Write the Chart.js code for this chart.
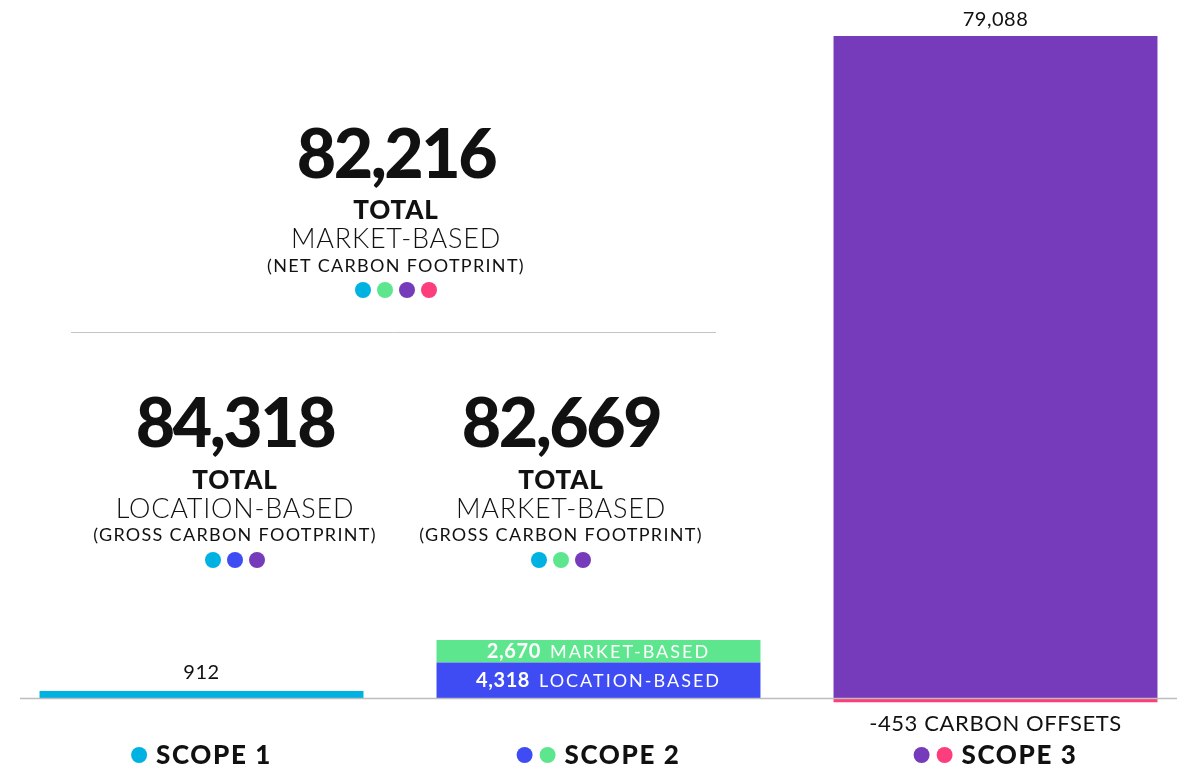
<!DOCTYPE html>
<html>
<head>
<meta charset="utf-8">
<script src="https://cdn.jsdelivr.net/npm/chart.js@4.4.1/dist/chart.umd.min.js"></script>
<style>
	html, body { margin: 0; padding: 0; background: #ffffff; overflow: hidden; }
	#wrap { position: relative; width: 1194px; height: 769px; }
</style>
</head>
<body>
<div id="wrap"><canvas id="chart"></canvas></div>
<script>

// data
const scopes = ['SCOPE 1', 'SCOPE 2', 'SCOPE 3'];
const scope1 = [912, null, null];
const scope2Location = [null, 4318, null];
const scope2Market = [null, 2670, null];
const scope3 = [null, null, 79088];
const carbonOffsets = [null, null, -453];

const totalValues = ['82,216', '84,318', '82,669'];
const totalKinds = ['MARKET-BASED', 'LOCATION-BASED', 'MARKET-BASED'];
const totalNotes = ['(NET CARBON FOOTPRINT)', '(GROSS CARBON FOOTPRINT)', '(GROSS CARBON FOOTPRINT)'];

const COL = {
	cyan: '#00b2e2',
	blue: '#3f4cf4',
	green: '#5de68e',
	purple: '#763bba',
	pink: '#fd3e7c',
	text: '#111111',
	rule: '#bdbdbd'
};

const totalDots = [
	[COL.cyan, COL.green, COL.purple, COL.pink],
	[COL.cyan, COL.blue, COL.purple],
	[COL.cyan, COL.green, COL.purple]
];
const scopeDots = [[COL.cyan], [COL.blue, COL.green], [COL.purple, COL.pink]];

const FONT = 'Lato, "Noto Sans", sans-serif';


function font(weight, size) {
	return weight + ' ' + size + 'px ' + FONT;
}


function dotRow(ctx, cx, y, list) {
	const gap = 22;
	const x0 = cx - (list.length - 1) * gap / 2;
	list.forEach(function(c, i) {
		ctx.beginPath();
		ctx.arc(x0 + i * gap, y, 8, 0, Math.PI * 2);
		ctx.fillStyle = c;
		ctx.fill();
	});
}


function centered(ctx, text, x, y, f, spacing, color) {
	ctx.font = f;
	ctx.letterSpacing = (spacing || 0) + 'px';
	ctx.fillStyle = color || COL.text;
	ctx.textAlign = 'center';
	ctx.textBaseline = 'alphabetic';
	ctx.fillText(text, x, y);
	ctx.letterSpacing = '0px';
}


// number in bold followed by a spaced-out label, centred as one piece
function pair(ctx, num, label, cx, y, color) {
	ctx.textAlign = 'left';
	ctx.textBaseline = 'alphabetic';
	ctx.fillStyle = color;
	ctx.font = font(700, 20);
	ctx.letterSpacing = '0.6px';
	const w1 = ctx.measureText(num).width;
	ctx.font = font(400, 18);
	ctx.letterSpacing = '2px';
	const w2 = ctx.measureText(label).width;
	const x = cx - (w1 + 9 + w2) / 2;
	ctx.font = font(700, 20);
	ctx.letterSpacing = '0.6px';
	ctx.fillText(num, x, y);
	ctx.font = font(400, 18);
	ctx.letterSpacing = '2px';
	ctx.fillText(label, x + w1 + 9, y);
	ctx.letterSpacing = '0px';
}


const blocks = [
	{x: 396, num: 178, total: 219, kind: 248, note: 272, dots: 290},
	{x: 235, num: 447, total: 489, kind: 518, note: 541, dots: 560},
	{x: 561, num: 447, total: 489, kind: 518, note: 541, dots: 560}
];


const annotate = {
	id: 'annotate',

	afterDatasetsDraw(chart) {
		const ctx = chart.ctx;
		const x = chart.scales.x;
		const y = chart.scales.y;
		const zero = y.getPixelForValue(0);

		ctx.save();

		// baseline
		ctx.strokeStyle = COL.rule;
		ctx.lineWidth = 1.5;
		ctx.beginPath();
		ctx.moveTo(20, zero);
		ctx.lineTo(1177, zero);
		ctx.stroke();

		// separator between net and gross totals
		ctx.strokeStyle = '#c4c4c4';
		ctx.lineWidth = 1;
		ctx.beginPath();
		ctx.moveTo(71, 332.5);
		ctx.lineTo(716, 332.5);
		ctx.stroke();

		// totals
		blocks.forEach(function(b, i) {
			centered(ctx, totalValues[i], b.x, b.num, font(900, 68), -2.5);
			centered(ctx, 'TOTAL', b.x, b.total, font(900, 26), 0.8);
			centered(ctx, totalKinds[i], b.x, b.kind, font(300, 27), 0.8);
			centered(ctx, totalNotes[i], b.x, b.note, font(400, 18), 1.3);
			dotRow(ctx, b.x, b.dots, totalDots[i]);
		});

		// value labels
		const s1 = chart.getDatasetMeta(0).data[0];
		centered(ctx, scope1[0].toLocaleString('en-US'), s1.x, s1.y - 12, font(400, 20), 0.5);

		const s3 = chart.getDatasetMeta(3).data[2];
		centered(ctx, scope3[2].toLocaleString('en-US'), s3.x, s3.y - 10, font(400, 20), 0.5);

		const off = chart.getDatasetMeta(4).data[2];
		centered(ctx, carbonOffsets[2] + ' CARBON OFFSETS', off.x, off.y + 29, font(400, 22), 0.6);

		const loc = chart.getDatasetMeta(1).data[1];
		pair(ctx, scope2Location[1].toLocaleString('en-US'), 'LOCATION-BASED', loc.x, (loc.y + loc.base) / 2 + 7, '#ffffff');
		const mkt = chart.getDatasetMeta(2).data[1];
		pair(ctx, scope2Market[1].toLocaleString('en-US'), 'MARKET-BASED', mkt.x, (mkt.y + mkt.base) / 2 + 7, '#ffffff');

		// scope labels with their colour dots
		scopes.forEach(function(label, i) {
			const cx = x.getPixelForValue(i);
			const list = scopeDots[i];
			ctx.font = font(900, 26);
			ctx.letterSpacing = '1.6px';
			const tw = ctx.measureText(label).width;
			const dw = list.length * 16 + (list.length - 1) * 7;
			const left = cx - (dw + 9 + tw) / 2;
			list.forEach(function(c, k) {
				ctx.beginPath();
				ctx.arc(left + 8 + k * 23, 755, 8, 0, Math.PI * 2);
				ctx.fillStyle = c;
				ctx.fill();
			});
			ctx.fillStyle = COL.text;
			ctx.textAlign = 'left';
			ctx.textBaseline = 'alphabetic';
			ctx.fillText(label, left + dw + 9, 764);
			ctx.letterSpacing = '0px';
		});

		ctx.restore();
	}
};


const config = {
	type: 'bar',
	data: {
		labels: scopes,
		datasets: [
			{label: 'Scope 1', data: scope1, backgroundColor: COL.cyan},
			{label: 'Location-based', data: scope2Location, backgroundColor: COL.blue},
			{label: 'Market-based', data: scope2Market, backgroundColor: COL.green},
			{label: 'Scope 3', data: scope3, backgroundColor: COL.purple},
			{label: 'Carbon offsets', data: carbonOffsets, backgroundColor: COL.pink}
		]
	},
	options: {
		responsive: true,
		maintainAspectRatio: false,
		animation: false,
		layout: {padding: {top: 36, left: 3, right: 0, bottom: 65}},
		datasets: {
			bar: {categoryPercentage: 1, barPercentage: 0.816, borderWidth: 0}
		},
		scales: {
			x: {display: false, stacked: true},
			y: {display: false, stacked: true, min: -650, max: 79088}
		},
		plugins: {
			legend: {display: false},
			tooltip: {enabled: false}
		}
	},
	plugins: [annotate]
};

new Chart(document.getElementById('chart').getContext('2d'), config);

</script>
</body>
</html>
